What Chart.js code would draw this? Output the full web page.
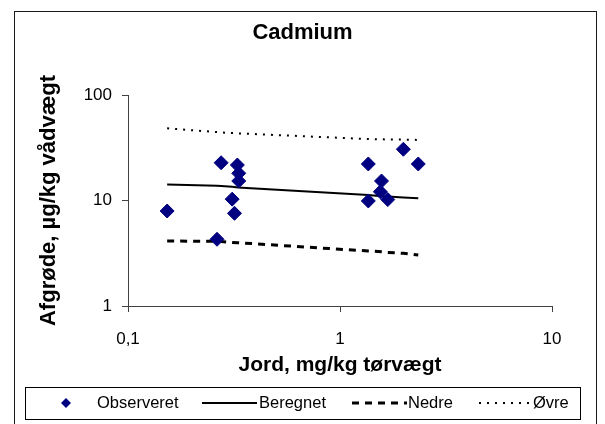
<!DOCTYPE html>
<html>
<head>
<meta charset="utf-8">
<title>Cadmium</title>
<script src="https://cdn.jsdelivr.net/npm/chart.js@4.4.1/dist/chart.umd.min.js"></script>
<style>
  html, body { margin: 0; padding: 0; background: #fff; }
  #wrap { width: 605px; height: 424px; position: relative; }
</style>
</head>
<body>
<div id="wrap"><canvas id="c" width="605" height="424"></canvas></div>
<script>
// Observed crop concentration vs. soil concentration
const obsSoil = [0.153, 0.275, 0.263, 0.328, 0.333, 0.333, 0.31, 0.318, 1.36, 1.36, 1.57, 1.55, 1.68, 1.99, 2.34];
const obsCrop = [7.95, 22.8, 4.29, 21.7, 18.1, 15.3, 10.3, 7.56, 22.2, 9.9, 15.3, 12.1, 10.2, 30.6, 22.2];

// Model curve (calculated) with lower and upper bounds
const modelSoil = [0.153, 0.263, 0.275, 0.31, 0.33, 1.36, 1.57, 1.68, 1.99, 2.34];
const beregnet  = [14.2, 13.8, 13.7, 13.5, 13.3, 11.3, 11.0, 10.9, 10.7, 10.5];
const nedre     = [4.13, 4.10, 4.08, 4.00, 3.98, 3.32, 3.27, 3.22, 3.16, 3.04];
const ovre      = [48.3, 44.5, 44.2, 43.6, 43.3, 38.2, 38.0, 37.9, 37.8, 37.5];

// Axis ticks
const xTickValues = [0.1, 1, 10];
const xTickLabels = ['0,1', '1', '10'];
const yTickValues = [1, 10, 100];
const yTickLabels = ['1', '10', '100'];

const seriesNames = ['Observeret', 'Beregnet', 'Nedre', 'Øvre'];

const FONT = "'Liberation Sans', Arial, sans-serif";
const pts = (xs, ys) => xs.map((x, i) => ({ x: x, y: ys[i] }));

const styles = [
  { color: '#000080', width: 1, dash: [] },
  { color: '#000000', width: 2, dash: [] },
  { color: '#000000', width: 3, dash: [7, 6] },
  { color: '#000000', width: 2, dash: [2, 6] }
];

// Outer frame around the whole chart
const framePlugin = {
  id: 'frame',
  afterDraw(chart) {
    const ctx = chart.ctx;
    ctx.save();
    ctx.strokeStyle = '#1a1a1a';
    ctx.lineWidth = 1;
    ctx.strokeRect(14.5, 11.5, 582, 420);
    ctx.restore();
  }
};

// Boxed legend along the bottom
const legendBoxPlugin = {
  id: 'legendBox',
  afterDraw(chart) {
    const ctx = chart.ctx;
    ctx.save();
    ctx.strokeStyle = '#000';
    ctx.lineWidth = 1;
    ctx.strokeRect(25.5, 387.5, 555, 32);
    const cy = 403;
    ctx.font = '16.5px ' + FONT;
    ctx.fillStyle = '#000';
    ctx.textBaseline = 'middle';
    ctx.textAlign = 'left';

    // marker sample
    ctx.fillStyle = styles[0].color;
    ctx.beginPath();
    ctx.moveTo(66, cy - 5); ctx.lineTo(71, cy); ctx.lineTo(66, cy + 5); ctx.lineTo(61, cy);
    ctx.closePath(); ctx.fill();
    ctx.fillStyle = '#000';
    ctx.fillText(seriesNames[0], 97, cy);

    const lineItems = [
      { i: 1, x0: 202, x1: 257, tx: 259 },
      { i: 2, x0: 352, x1: 407, tx: 408 },
      { i: 3, x0: 479, x1: 533, tx: 533 }
    ];
    lineItems.forEach(it => {
      const s = styles[it.i];
      ctx.strokeStyle = s.color;
      ctx.lineWidth = s.width;
      ctx.setLineDash(s.dash);
      ctx.beginPath();
      ctx.moveTo(it.x0, cy); ctx.lineTo(it.x1, cy);
      ctx.stroke();
      ctx.setLineDash([]);
      ctx.fillText(seriesNames[it.i], it.tx, cy);
    });
    ctx.restore();
  }
};

const axisCommon = {
  type: 'logarithmic',
  grid: { display: true, drawOnChartArea: false, drawTicks: true, tickLength: 6, color: '#404040', lineWidth: 1 },
  border: { display: true, color: '#404040', width: 1 }
};

new Chart(document.getElementById('c'), {
  type: 'scatter',
  data: {
    datasets: [
      {
        label: seriesNames[0],
        data: pts(obsSoil, obsCrop),
        showLine: false,
        pointStyle: 'rectRot',
        pointRadius: 7,
        pointBackgroundColor: styles[0].color,
        pointBorderColor: styles[0].color,
        pointBorderWidth: 1,
        order: 0
      },
      {
        label: seriesNames[1],
        data: pts(modelSoil, beregnet),
        showLine: true,
        pointRadius: 0,
        borderColor: styles[1].color,
        borderWidth: styles[1].width,
        borderDash: styles[1].dash,
        tension: 0,
        order: 1
      },
      {
        label: seriesNames[2],
        data: pts(modelSoil, nedre),
        showLine: true,
        pointRadius: 0,
        borderColor: styles[2].color,
        borderWidth: styles[2].width,
        borderDash: styles[2].dash,
        tension: 0,
        order: 2
      },
      {
        label: seriesNames[3],
        data: pts(modelSoil, ovre),
        showLine: true,
        pointRadius: 0,
        borderColor: styles[3].color,
        borderWidth: styles[3].width,
        borderDash: styles[3].dash,
        tension: 0,
        order: 3
      }
    ]
  },
  options: {
    responsive: false,
    animation: false,
    devicePixelRatio: 1,
    layout: { padding: { left: 0, right: 0, top: 0, bottom: 0 } },
    plugins: {
      legend: { display: false },
      tooltip: { enabled: false },
      title: {
        display: true,
        text: 'Cadmium',
        color: '#000',
        font: { family: FONT, size: 22, weight: 'bold', lineHeight: 1.2 },
        padding: { top: 20, bottom: 48.6 }
      }
    },
    scales: {
      x: Object.assign({}, axisCommon, {
        position: 'bottom',
        min: 0.1,
        max: 10,
        afterBuildTicks(scale) { scale.ticks = xTickValues.map(v => ({ value: v })); },
        afterFit(scale) { scale.height = 118; },
        ticks: {
          color: '#000',
          padding: 17,
          maxRotation: 0,
          font: { family: FONT, size: 17, lineHeight: 1.2 },
          callback: (v, i) => xTickLabels[i]
        },
        title: {
          display: true,
          text: 'Jord, mg/kg tørvægt',
          color: '#000',
          font: { family: FONT, size: 21, weight: 'bold', lineHeight: 1.2 },
          padding: { top: 0, bottom: 46.5 }
        }
      }),
      y: Object.assign({}, axisCommon, {
        position: 'left',
        min: 1,
        max: 100,
        afterBuildTicks(scale) { scale.ticks = yTickValues.map(v => ({ value: v })); },
        afterFit(scale) { scale.width = 128; },
        ticks: {
          color: '#000',
          padding: 10,
          font: { family: FONT, size: 17, lineHeight: 1.2 },
          callback: (v, i) => yTickLabels[i]
        },
        title: {
          display: true,
          text: 'Afgrøde, µg/kg vådvægt',
          color: '#000',
          font: { family: FONT, size: 22, weight: 'bold', lineHeight: 1.2 },
          padding: { top: 36, bottom: 0 }
        }
      }),
      // empty right-hand margin so the title centres over the whole figure
      yRight: {
        type: 'linear',
        position: 'right',
        display: true,
        grid: { display: false, drawTicks: false },
        border: { display: false },
        ticks: { display: false },
        afterFit(scale) { scale.width = 53; }
      }
    }
  },
  plugins: [framePlugin, legendBoxPlugin]
});
</script>
</body>
</html>
